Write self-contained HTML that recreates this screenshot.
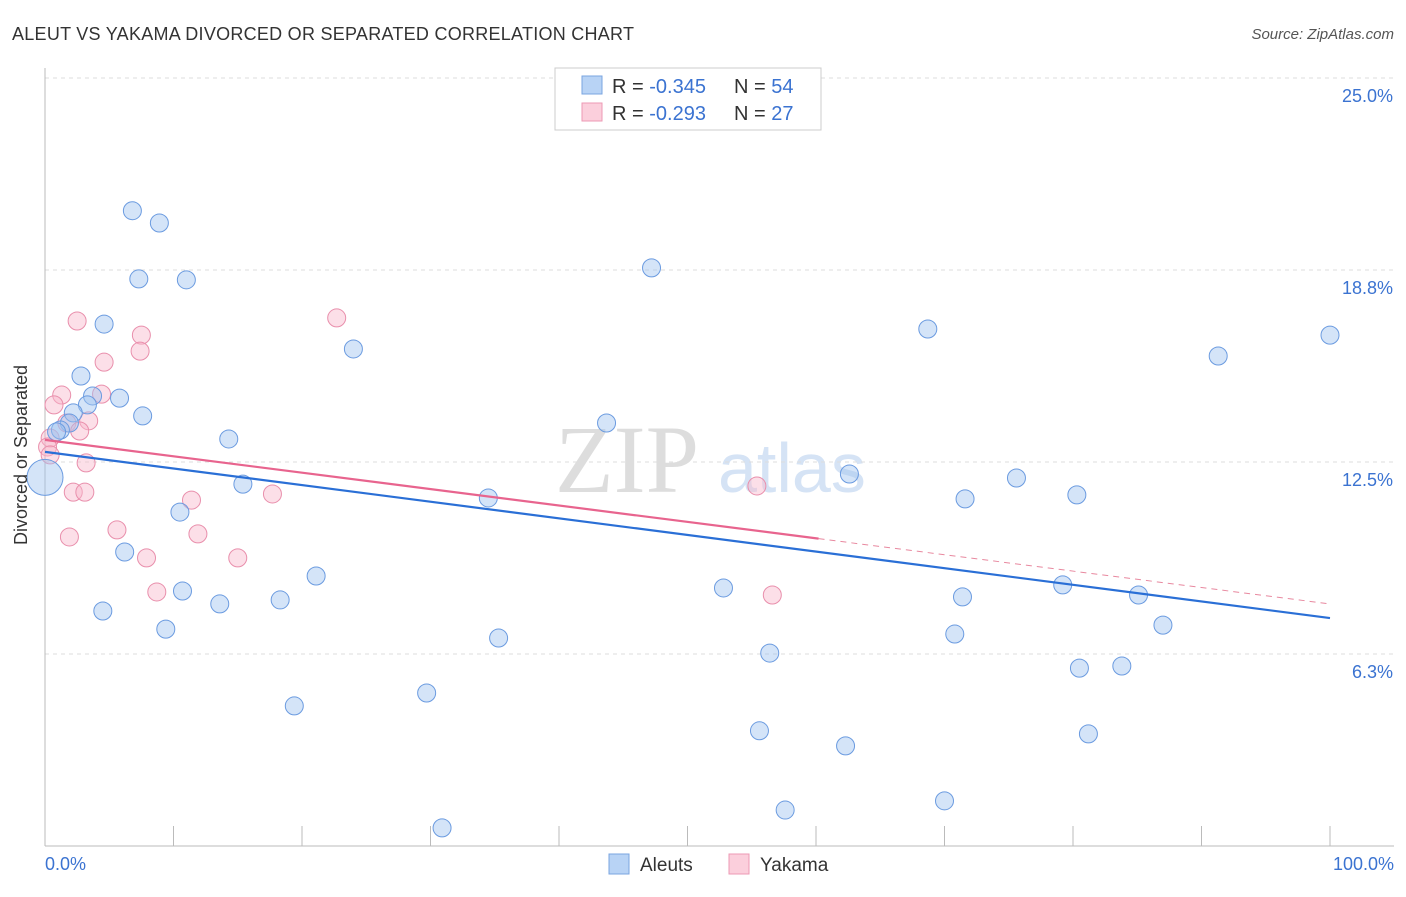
<!DOCTYPE html>
<html><head><meta charset="utf-8"><style>
body{margin:0;background:#fff;font-family:"Liberation Sans",sans-serif}
</style></head><body>
<svg id="c" width="1406" height="892" xmlns="http://www.w3.org/2000/svg" font-family="Liberation Sans, sans-serif">
<text x="12" y="40" font-size="18" fill="#333" textLength="622" lengthAdjust="spacing">ALEUT VS YAKAMA DIVORCED OR SEPARATED CORRELATION CHART</text>
<text x="1394" y="39" font-size="15" fill="#555" font-style="italic" text-anchor="end">Source: ZipAtlas.com</text>
<text x="555" y="492" font-size="96" fill="#ddd" font-family="Liberation Serif, serif">ZIP</text>
<text x="718" y="492" font-size="70" fill="#d5e3f5">atlas</text>
<g id="grid"></g><g id="axes"></g><g id="marks"></g>
<text x="27" y="455" font-size="18" fill="#333" text-anchor="middle" transform="rotate(-90 27 455)">Divorced or Separated</text>
<text x="45" y="870" font-size="18" fill="#3b73d1">0.0%</text>
<text x="1394" y="870" font-size="18" fill="#3b73d1" text-anchor="end">100.0%</text>
<g>
<rect x="555" y="68" width="266" height="62" fill="#fff" stroke="#ccc"/>
<rect x="582" y="76" width="20" height="18" fill="#b8d3f5" stroke="#7aa4e0"/>
<rect x="582" y="103" width="20" height="18" fill="#fbcfdc" stroke="#ec9ab4"/>
<text x="612" y="93" font-size="20" fill="#333">R = <tspan fill="#3b73d1">-0.345</tspan></text>
<text x="734" y="93" font-size="20" fill="#333">N = <tspan fill="#3b73d1">54</tspan></text>
<text x="612" y="120" font-size="20" fill="#333">R = <tspan fill="#3b73d1">-0.293</tspan></text>
<text x="734" y="120" font-size="20" fill="#333">N =  <tspan fill="#3b73d1">27</tspan></text>
</g>
<g>
<rect x="609" y="854" width="20" height="20" fill="#b8d3f5" stroke="#7aa4e0"/>
<text x="640" y="871" font-size="19" fill="#333">Aleuts</text>
<rect x="729" y="854" width="20" height="20" fill="#fbcfdc" stroke="#ec9ab4"/>
<text x="760" y="871" font-size="19" fill="#333">Yakama</text>
</g>
</svg>
<script>
const yTicks=[6.25,12.5,18.75,25];
const yTickLabels=["6.3%","12.5%","18.8%","25.0%"];
const xTicks=[0,10,20,30,40,50,60,70,80,90,100];
const aleutX=[6.8,8.9,7.3,11.0,47.2,4.6,68.7,100,91.3,24.0,2.8,5.8,3.7,3.3,2.2,7.6,1.9,1.2,0.9,14.3,43.7,0,15.4,62.6,75.6,34.5,71.6,80.3,10.5,6.2,21.1,10.7,52.8,71.4,79.2,85.1,18.3,13.6,4.5,9.4,87.0,35.3,70.8,56.4,80.5,83.8,29.7,19.4,55.6,81.2,62.3,70.0,57.6,30.9];
const aleutY=[20.68,20.28,18.46,18.43,18.82,16.99,16.83,16.63,15.95,16.18,15.30,14.58,14.65,14.36,14.10,14.00,13.77,13.54,13.48,13.25,13.77,12.0,11.78,12.11,11.98,11.33,11.30,11.43,10.87,9.57,8.79,8.30,8.40,8.11,8.50,8.17,8.01,7.88,7.65,7.06,7.19,6.77,6.90,6.28,5.79,5.86,4.98,4.56,3.75,3.65,3.26,1.47,1.17,0.59];
const yakamaX=[2.5,22.7,7.5,7.4,4.6,1.3,4.4,0.7,3.4,1.7,2.7,0.4,0.2,0.4,3.2,2.2,3.1,17.7,11.4,55.4,5.6,1.9,11.9,7.9,15.0,8.7,56.6];
const yakamaY=[17.09,17.19,16.63,16.11,15.75,14.68,14.71,14.36,13.84,13.77,13.51,13.28,12.99,12.73,12.47,11.52,11.52,11.46,11.26,11.72,10.29,10.06,10.16,9.38,9.38,8.27,8.17];
const aleutTrend=[12.83,7.42];
const yakamaTrend=[13.22,7.88];
const yakamaSolidEnd=60.2;
const X=v=>45+v/100*1285, Y=v=>846-v/25*768;
const NS="http://www.w3.org/2000/svg";
function mk(p,t,a){const e=document.createElementNS(NS,t);for(const k in a)e.setAttribute(k,a[k]);document.getElementById(p).appendChild(e);return e;}
yTicks.forEach((t,i)=>{
 const l=mk('grid','line',{x1:45,x2:1394,y1:Y(t),y2:Y(t),stroke:'#ddd','stroke-dasharray':'4,4'});
 
 
 const tx=mk('grid','text',{x:1393,y:Y(t)+24,'font-size':18,fill:'#3b73d1','text-anchor':'end'});
 tx.textContent=yTickLabels[i];
 
 
});
const ax=mk('axes','line',{x1:45,x2:1394,y1:846,y2:846,stroke:'#bbb'});


const ay=mk('axes','line',{x1:45,x2:45,y1:68,y2:846,stroke:'#bbb'});


xTicks.forEach(t=>{const l=mk('axes','line',{x1:X(t),x2:X(t),y1:826,y2:846,stroke:'#bbb'});
 
 });
function pts(xs,ys,fill,stroke,name){xs.forEach((x,i)=>{
 const r=(x===0&&name==='aleut-point')?18:9;
 const c=mk('marks','circle',{cx:X(x),cy:Y(ys[i]),r:r,fill:fill,stroke:stroke,'stroke-width':1});
 
 });}
pts(yakamaX,yakamaY,'rgba(248,185,205,0.45)','#e98fac','yakama-point');
pts(aleutX,aleutY,'rgba(160,196,240,0.45)','#6b9be0','aleut-point');
const yk=v=>yakamaTrend[0]+(yakamaTrend[1]-yakamaTrend[0])*v/100;
const l1=mk('marks','line',{x1:X(0),y1:Y(aleutTrend[0]),x2:X(100),y2:Y(aleutTrend[1]),stroke:'#2a6fd6','stroke-width':2.2});


const l2=mk('marks','line',{x1:X(0),y1:Y(yk(0)),x2:X(yakamaSolidEnd),y2:Y(yk(yakamaSolidEnd)),stroke:'#e8648e','stroke-width':2.2});


const l3=mk('marks','line',{x1:X(yakamaSolidEnd),y1:Y(yk(yakamaSolidEnd)),x2:X(100),y2:Y(yk(100)),stroke:'#e8889f','stroke-width':1,'stroke-dasharray':'6,5'});


</script>
</body></html>
